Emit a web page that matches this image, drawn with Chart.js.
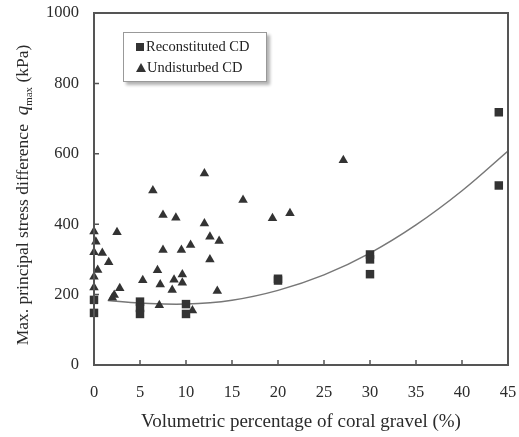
<!DOCTYPE html>
<html>
<head>
<meta charset="utf-8">
<script src="https://cdn.jsdelivr.net/npm/chart.js@4.4.1/dist/chart.umd.min.js"></script>
<style>
  body { margin: 0; background: #fff; }
  #wrap { position: relative; width: 519px; height: 437px; }
  #legend {
    position: absolute; left: 123px; top: 32px; width: 142px; height: 48px;
    border: 1px solid #999; background: #fff;
    box-shadow: 3px 3px 3px rgba(0,0,0,0.3);
    font: 14.5px "Liberation Serif", serif; color: #222;
  }
  #legend div { position: absolute; left: 12px; white-space: nowrap; }
  .sq { display: inline-block; width: 8px; height: 8px; background: #333; margin-right: 2px; }
  .tri { display: inline-block; width: 0; height: 0; border-left: 5px solid transparent;
         border-right: 5px solid transparent; border-bottom: 9px solid #333; margin-right: 1px; }
</style>
</head>
<body>
<div id="wrap">
  <canvas id="chart" width="519" height="437"></canvas>
  <div id="legend">
    <div style="top:5px"><span class="sq"></span>Reconstituted CD</div>
    <div style="top:26px"><span class="tri"></span>Undisturbed CD</div>
  </div>
</div>
<script>
// values: [coral gravel %, qmax kPa]
var reconstituted = [
    [0, 185], [0, 148],
    [5, 180], [5, 162], [5, 145],
    [10, 173], [10, 145],
    [20, 245], [20, 240],
    [30, 314], [30, 300], [30, 258],
    [44, 718], [44, 510]
];
var undisturbed = [
    [0, 379], [0.2, 350], [0, 320], [0.9, 318], [1.6, 292], [0.4, 270], [0, 251], [0, 220],
    [2.5, 377], [2.8, 218], [2.2, 199], [2.0, 191],
    [5.3, 241], [6.4, 496], [6.9, 269], [7.1, 170], [7.2, 229], [7.5, 426], [7.5, 327],
    [8.5, 213], [8.7, 242], [8.9, 418], [9.5, 327], [9.6, 257], [9.6, 234],
    [10.5, 341], [10.7, 155], [12.0, 544], [12.0, 402], [12.6, 364], [12.6, 300],
    [13.6, 352], [13.4, 210], [16.2, 469], [19.4, 417], [21.3, 431], [27.1, 582]
];
// trend line, read at a few x positions
var trendX = [1.5, 5, 10, 15, 20, 25, 30, 35, 40, 45];
var trendY = [183, 176, 173, 184, 212, 256, 318, 398, 495, 608];

var xTicks = [0, 5, 10, 15, 20, 25, 30, 35, 40, 45];
var yTicks = [0, 200, 400, 600, 800, 1000];

function toPts(arr) {
    return arr.map(function (p) { return { x: p[0], y: p[1] }; });
}

var serif = '"Liberation Serif", "Times New Roman", serif';
var ink = '#2b2b2b';

// box round the plot and short inward tick marks
var frame = {
    id: 'frame',
    afterDatasetsDraw: function (chart) {
        var ctx = chart.ctx, a = chart.chartArea;
        var xs = chart.scales.x, ys = chart.scales.y;
        ctx.save();
        ctx.strokeStyle = '#555';
        ctx.lineWidth = 2;
        ctx.strokeRect(a.left, a.top, a.right - a.left, a.bottom - a.top);
        ctx.lineWidth = 1.5;
        ctx.beginPath();
        xTicks.slice(1, -1).forEach(function (v) {
            var px = xs.getPixelForValue(v);
            ctx.moveTo(px, a.bottom); ctx.lineTo(px, a.bottom - 5);
        });
        yTicks.slice(1, -1).forEach(function (v) {
            var py = ys.getPixelForValue(v);
            ctx.moveTo(a.left, py); ctx.lineTo(a.left + 5, py);
        });
        ctx.stroke();
        ctx.restore();
    }
};

// y title with italic q and subscript max
var yTitle = {
    id: 'yTitle',
    afterDraw: function (chart) {
        var ctx = chart.ctx;
        var parts = [
            { t: 'Max. principal stress difference  ', f: '17.5px ' + serif, dy: 0 },
            { t: 'q', f: 'italic 19px ' + serif, dy: 0 },
            { t: 'max', f: '11px ' + serif, dy: 4 },
            { t: ' (kPa)', f: '17.5px ' + serif, dy: 0 }
        ];
        var total = 0;
        parts.forEach(function (p) { ctx.font = p.f; p.w = ctx.measureText(p.t).width; total += p.w; });
        ctx.save();
        ctx.translate(28, 195);
        ctx.rotate(-Math.PI / 2);
        ctx.fillStyle = ink;
        ctx.textBaseline = 'alphabetic';
        var x = -total / 2;
        parts.forEach(function (p) {
            ctx.font = p.f;
            ctx.fillText(p.t, x, p.dy);
            x += p.w;
        });
        ctx.restore();
    }
};

new Chart(document.getElementById('chart'), {
    type: 'scatter',
    data: {
        datasets: [{
            label: 'Reconstituted CD',
            data: toPts(reconstituted),
            pointStyle: 'rect',
            pointRadius: 6,
            backgroundColor: '#333',
            borderColor: '#333',
            borderWidth: 0,
            clip: false
        }, {
            label: 'Undisturbed CD',
            data: toPts(undisturbed),
            pointStyle: 'triangle',
            pointRadius: 5.5,
            backgroundColor: '#333',
            borderColor: '#333',
            borderWidth: 0,
            clip: false
        }, {
            label: 'trend',
            type: 'line',
            data: trendX.map(function (x, i) { return { x: x, y: trendY[i] }; }),
            borderColor: '#777',
            borderWidth: 1.5,
            pointRadius: 0,
            fill: false,
            tension: 0.4
        }]
    },
    options: {
        responsive: false,
        animation: false,
        layout: { padding: { left: 0, right: 11, top: 13, bottom: 0 } },
        plugins: {
            legend: { display: false },
            tooltip: { enabled: false }
        },
        scales: {
            x: {
                type: 'linear', min: 0, max: 45,
                afterFit: function (s) { s.height = 72; s.paddingLeft = 0; s.paddingRight = 0; },
                afterBuildTicks: function (s) { s.ticks = xTicks.map(function (v) { return { value: v }; }); },
                grid: { display: false },
                border: { display: false },
                ticks: { color: ink, padding: 10, font: { family: serif, size: 16.5 } },
                title: { display: true, text: 'Volumetric percentage of coral gravel (%)', color: ink,
                         font: { family: serif, size: 19 }, padding: { top: 6 } }
            },
            y: {
                min: 0, max: 1000,
                afterFit: function (s) { s.width = 94; s.paddingTop = 0; s.paddingBottom = 0; },
                afterBuildTicks: function (s) { s.ticks = yTicks.map(function (v) { return { value: v }; }); },
                grid: { display: false },
                border: { display: false },
                ticks: { color: ink, padding: 7, font: { family: serif, size: 16.5 },
                         callback: function (v) { return String(v); } }
            }
        }
    },
    plugins: [frame, yTitle]
});
</script>
</body>
</html>
